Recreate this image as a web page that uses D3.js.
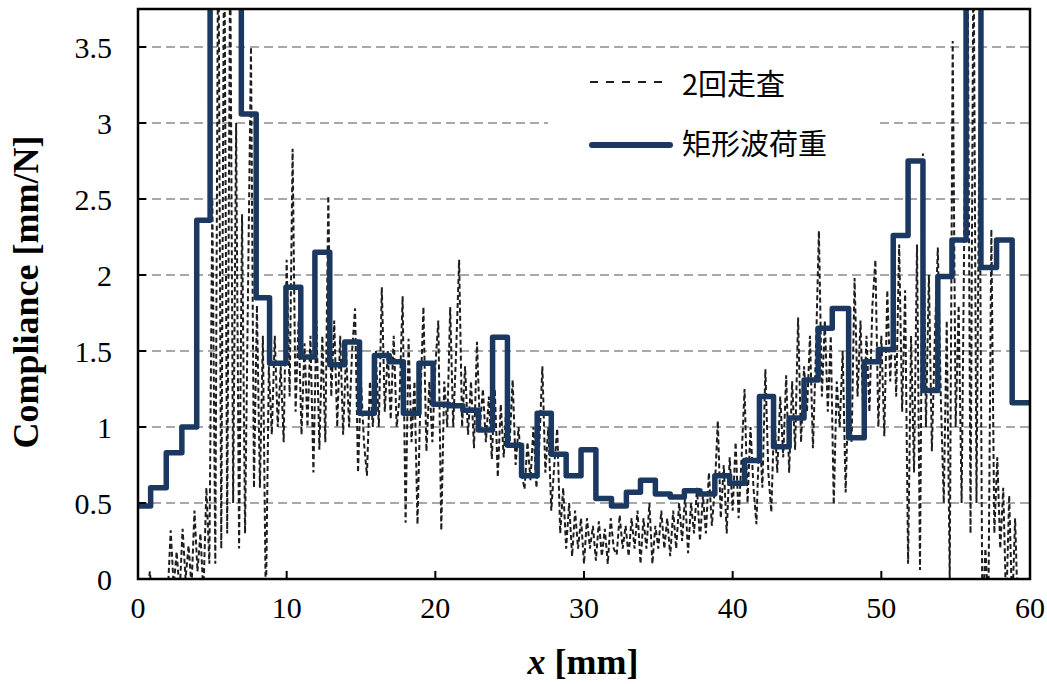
<!DOCTYPE html>
<html lang="ja">
<head>
<meta charset="utf-8">
<title>Compliance</title>
<style>
  body { margin: 0; background: #fff; }
  svg { display: block; }
</style>
</head>
<body>
<div id="chart"></div>
<script src="https://d3js.org/d3.v7.min.js"></script>
<script>
// 矩形波荷重: start of each level [mm] and its compliance
const stepX = [0, 0.85, 1.9, 2.95, 3.95, 4.85, 5.9, 6.95, 7.95, 8.85,
  9.95, 10.95, 11.9, 12.9, 13.9, 14.9, 15.9, 16.9, 17.85, 18.9,
  19.85, 20.9, 21.85, 22.9, 23.85, 24.85, 25.8, 26.85, 27.8, 28.8,
  29.8, 30.8, 31.85, 32.85, 33.8, 34.8, 35.8, 36.75, 37.8, 38.8,
  39.8, 40.8, 41.8, 42.75, 43.8, 44.8, 45.75, 46.7, 47.8, 48.85,
  49.8, 50.8, 51.8, 52.8, 53.8, 54.75, 55.7, 56.7, 57.75, 58.8, 60];
const stepC = [0.48, 0.60, 0.83, 1.0, 2.36, 4.6, 4.3, 3.06, 1.85, 1.42,
  1.92, 1.46, 2.15, 1.41, 1.56, 1.09, 1.47, 1.43, 1.09, 1.42,
  1.15, 1.14, 1.11, 0.98, 1.59, 0.88, 0.68, 1.09, 0.82, 0.68,
  0.85, 0.53, 0.48, 0.57, 0.65, 0.56, 0.54, 0.58, 0.56, 0.68,
  0.63, 0.78, 1.20, 0.87, 1.06, 1.31, 1.65, 1.78, 0.93, 1.43,
  1.51, 2.26, 2.75, 1.24, 1.99, 2.23, 4.4, 2.05, 2.23, 1.16, 1.16];

// 2回走査: sampled every 0.2 mm from x = 0
const dashX0 = 0;
const dashDx = 0.2;
const dashV = [
  -0.3, -0.2, -0.3, -0.1, 0.05,
  -0.2, -0.3, -0.1, -0.2, -0.1,
  -0.1, 0.32, -0.05, 0.18, -0.1,
  0.33, 0.0, 0.22, -0.05, 0.45,
  0.05, 0.3, -0.1, 0.6, 0.1,
  2.5, 0.1, 4.5, 0.2, 4.5,
  0.3, 4.2, 0.5, 3.0, 0.2,
  2.4, 0.3, 1.9, 3.5, 0.6,
  1.8, 0.6, 1.6, -0.2, 1.4,
  0.95, 1.6, 1.0, 1.4, 0.9,
  2.1, 1.2, 2.83, 1.1, 1.7,
  0.95, 1.55, 1.0, 1.6, 0.7,
  1.7, 0.85, 1.6, 0.9, 2.52,
  1.2, 1.7, 1.0, 1.6, 0.95,
  1.5, 1.0, 1.5, 1.78, 0.7,
  1.3, 0.9, 0.68, 1.3, 1.0,
  1.5, 1.0, 1.92, 1.1, 1.5,
  1.05, 1.6, 1.0, 1.2, 1.86,
  0.37, 1.58, 0.9, 1.3, 0.36,
  1.2, 1.79, 0.84, 1.3, 0.9,
  1.4, 1.7, 0.32, 1.3, 1.0,
  1.79, 1.0, 1.5, 2.1, 1.0,
  1.4, 0.95, 1.3, 0.86, 1.56,
  1.0, 1.25, 0.9, 1.2, 0.79,
  1.25, 0.67, 1.15, 0.8, 1.2,
  0.9, 1.31, 0.75, 1.0, 0.7,
  0.59, 0.9, 0.65, 1.0, 0.6,
  0.9, 1.4, 0.7, 1.0, 0.45,
  0.75, 0.99, 0.3, 0.6, 0.2,
  0.5, 0.15, 0.45, 0.2, 0.4,
  0.1, 0.4, 0.2, 0.35, 0.12,
  0.38, 0.15, 0.33, 0.1, 0.4,
  0.2, 0.16, 0.42, 0.2, 0.35,
  0.15, 0.4, 0.2, 0.45, 0.1,
  0.4, 0.2, 0.5, 0.1, 0.35,
  0.2, 0.45, 0.2, 0.4, 0.15,
  0.45, 0.2, 0.5, 0.25, 0.55,
  0.17, 0.5, 0.3, 0.6, 0.25,
  0.55, 0.3, 0.7, 0.35, 0.6,
  1.04, 0.4, 0.75, 0.3, 0.8,
  0.45, 0.9, 0.4, 0.8, 1.25,
  0.5, 1.0, 0.6, 0.36, 1.0,
  0.6, 1.38, 0.7, 0.44, 1.1,
  0.7, 1.2, 0.8, 1.34, 0.7,
  1.3, 0.85, 1.72, 0.9, 1.4,
  1.1, 1.6, 0.86, 1.5, 2.29,
  1.2, 1.7, 1.1, 1.6, 0.49,
  1.3, 1.0, 1.5, 0.57, 1.3,
  0.9, 1.98, 1.2, 1.7, 1.0,
  1.6, 1.1, 1.8, 2.1, 1.0,
  1.6, 0.94, 1.9, 1.3, 1.8,
  1.2, 2.2, 1.1, 1.9, 0.1,
  1.6, 0.7, 2.2, 0.06, 2.8,
  1.0, 2.0, 0.84, 1.6, 2.18,
  1.2, 0.5, 1.7, 0.0, 3.54,
  1.0, 1.8, 0.5, 2.5, 4.2,
  0.3, 4.3, 0.5, 3.0, -0.3,
  0.2, -0.2, 2.3, 0.3, 0.8,
  0.2, 0.6, -0.2, 0.55, -0.2,
  0.4, -0.3, -0.2, -0.3, -0.3,
  -0.3
];

const xTicks = [0, 10, 20, 30, 40, 50, 60];
const yTicks = [0, 0.5, 1, 1.5, 2, 2.5, 3, 3.5];
const names = ["2回走査", "矩形波荷重"];

const width = 1047, height = 684;
const navy = "#1a3860";
const serif = "'Liberation Serif', 'Times New Roman', serif";
const cjk = "'Noto Sans CJK JP', 'Noto Sans', sans-serif";

const svg = d3.select("#chart").append("svg")
    .attr("width", width)
    .attr("height", height);

const x = d3.scaleLinear().domain([0, 60]).range([138, 1030]);
const y = d3.scaleLinear().domain([0, 3.75]).range([579, 9]);

svg.append("clipPath").attr("id", "plot")
  .append("rect")
    .attr("x", x(0)).attr("y", y(3.75))
    .attr("width", x(60) - x(0)).attr("height", y(0) - y(3.75));

// gridlines
svg.append("g")
  .selectAll("line")
  .data(yTicks.filter(d => d > 0))
  .enter().append("line")
    .attr("x1", x(0)).attr("x2", x(60))
    .attr("y1", d => y(d)).attr("y2", d => y(d))
    .attr("stroke", "#8c8c8c")
    .attr("stroke-width", 1.6)
    .attr("stroke-dasharray", "9,5");

// legend box (hides the grid behind it)
svg.append("rect")
    .attr("x", 548).attr("y", 60)
    .attr("width", 330).attr("height", 122)
    .attr("fill", "#fff");

const plot = svg.append("g").attr("clip-path", "url(#plot)");

const dashData = dashV.map((v, i) => [dashX0 + i * dashDx, v]);
const dashLine = d3.line()
    .x(d => x(d[0]))
    .y(d => y(d[1]));

plot.append("path")
    .datum(dashData)
    .attr("d", dashLine)
    .attr("fill", "none")
    .attr("stroke", "#1e1e1e")
    .attr("stroke-width", 2)
    .attr("stroke-dasharray", "5,3");

const stepData = stepX.map((s, i) => [s, stepC[i]]);
const stepLine = d3.line()
    .curve(d3.curveStepAfter)
    .x(d => x(d[0]))
    .y(d => y(d[1]));

plot.append("path")
    .datum(stepData)
    .attr("d", stepLine)
    .attr("fill", "none")
    .attr("stroke", navy)
    .attr("stroke-width", 5.5)
    .attr("stroke-linejoin", "round");

// frame
svg.append("rect")
    .attr("x", x(0)).attr("y", y(3.75))
    .attr("width", x(60) - x(0)).attr("height", y(0) - y(3.75))
    .attr("fill", "none")
    .attr("stroke", "#000")
    .attr("stroke-width", 2.5);

// ticks (inside)
svg.append("g")
  .selectAll("line")
  .data(yTicks)
  .enter().append("line")
    .attr("x1", x(0)).attr("x2", x(0) + 8)
    .attr("y1", d => y(d)).attr("y2", d => y(d))
    .attr("stroke", "#000").attr("stroke-width", 2);

svg.append("g")
  .selectAll("line")
  .data(xTicks)
  .enter().append("line")
    .attr("x1", d => x(d)).attr("x2", d => x(d))
    .attr("y1", y(0)).attr("y2", y(0) - 8)
    .attr("stroke", "#000").attr("stroke-width", 2);

// tick labels
svg.append("g")
  .selectAll("text")
  .data(yTicks)
  .enter().append("text")
    .attr("x", 112)
    .attr("y", d => y(d))
    .attr("dy", "0.35em")
    .attr("text-anchor", "end")
    .attr("font-family", serif)
    .attr("font-size", 30)
    .text(d => d);

svg.append("g")
  .selectAll("text")
  .data(xTicks)
  .enter().append("text")
    .attr("x", d => x(d))
    .attr("y", 618)
    .attr("text-anchor", "middle")
    .attr("font-family", serif)
    .attr("font-size", 30)
    .text(d => d);

// axis titles
const xt = svg.append("text")
    .attr("x", 583).attr("y", 674)
    .attr("text-anchor", "middle")
    .attr("font-family", serif)
    .attr("font-weight", "bold")
    .attr("font-size", 36);
xt.append("tspan").attr("font-style", "italic").text("x");
xt.append("tspan").text(" [mm]");

svg.append("text")
    .attr("transform", "translate(38,292) rotate(-90)")
    .attr("text-anchor", "middle")
    .attr("font-family", serif)
    .attr("font-weight", "bold")
    .attr("font-size", 36)
    .text("Compliance [mm/N]");

// legend
svg.append("line")
    .attr("x1", 590).attr("x2", 667)
    .attr("y1", 82).attr("y2", 82)
    .attr("stroke", "#1e1e1e").attr("stroke-width", 1.8)
    .attr("stroke-dasharray", "8,8");
svg.append("text")
    .attr("x", 682).attr("y", 95)
    .attr("font-family", cjk)
    .attr("font-size", 29)
    .text(names[0]);

svg.append("line")
    .attr("x1", 592).attr("x2", 670)
    .attr("y1", 145).attr("y2", 145)
    .attr("stroke", navy).attr("stroke-width", 6)
    .attr("stroke-linecap", "round");
svg.append("text")
    .attr("x", 682).attr("y", 155)
    .attr("font-family", cjk)
    .attr("font-size", 29)
    .text(names[1]);
</script>
</body>
</html>
